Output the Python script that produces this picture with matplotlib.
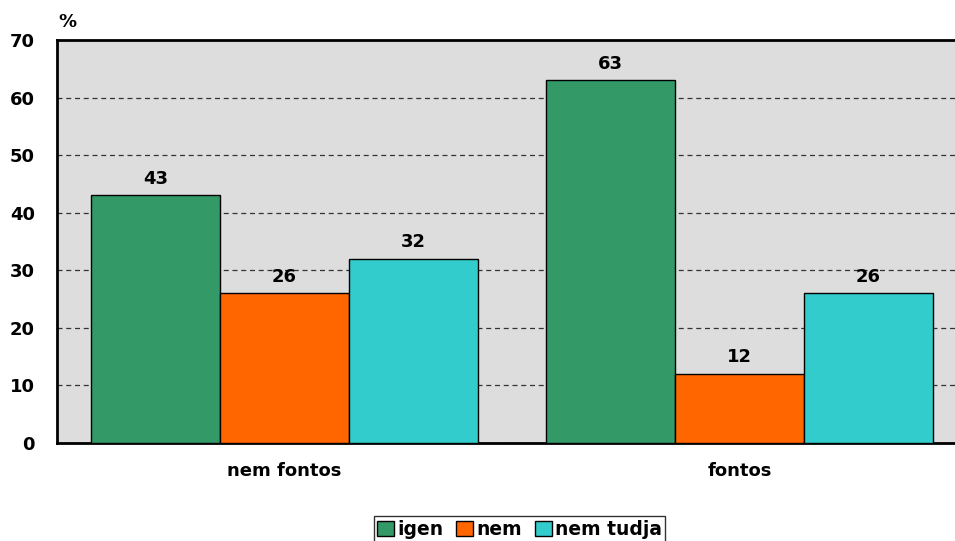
import matplotlib.pyplot as plt
import numpy as np

# adatok
categories = ['nem fontos', 'fontos']
series_names = ['igen', 'nem', 'nem tudja']
igen = [43, 63]
nem = [26, 12]
nem_tudja = [32, 26]
colors = ['#339966', '#FF6600', '#33CCCC']

plt.rcParams['font.family'] = ['DejaVu Sans']
plt.rcParams['font.weight'] = 'bold'

fig = plt.figure(figsize=(9.55, 5.41), dpi=100)
# a rajzterület jobb széle kilóg a képből
ax = fig.add_axes([57 / 955, 1 - 443 / 541, 910 / 955, 403 / 541])
ax.set_facecolor('#DDDDDD')

x = np.arange(len(categories))
w = 0.85 / 3
for i, (vals, name) in enumerate(zip([igen, nem, nem_tudja], series_names)):
    pos = x + (i - 1) * w
    bars = ax.bar(pos, vals, w, color=colors[i], edgecolor='black', linewidth=1, label=name, zorder=3)
    for b, v in zip(bars, vals):
        ax.text(b.get_x() + b.get_width() / 2, v + 1.3, str(v), ha='center', va='bottom',
                fontsize=13, fontweight='bold')

ax.set_xlim(-0.5, 1.5)
ax.set_ylim(0, 70)
ax.set_yticks(range(0, 71, 10))
ax.yaxis.grid(True, linestyle=(0, (4, 3)), color='#333333', linewidth=0.9, zorder=0)
ax.set_xticks(x)
ax.set_xticklabels(categories, fontsize=13, fontweight='bold')
ax.tick_params(axis='x', length=0, pad=14)
ax.tick_params(axis='y', length=0, labelsize=13, pad=16)
for t in ax.get_yticklabels():
    t.set_fontweight('bold')

for s in ['top', 'left', 'bottom']:
    ax.spines[s].set_linewidth(2)
ax.spines['right'].set_visible(False)

fig.text(58 / 955, 1 - 22 / 541, '%', fontsize=13, fontweight='bold', ha='left', va='center')

leg = fig.legend(loc='upper center', bbox_to_anchor=(0.544, 1 - 516 / 541), ncol=3, frameon=True,
                 fancybox=False, edgecolor='black', fontsize=13.5, handlelength=0.9, handleheight=0.9,
                 handletextpad=0.15, columnspacing=0.7, borderpad=0.2, borderaxespad=0)
leg.get_frame().set_linewidth(1)
for t in leg.get_texts():
    t.set_fontweight('bold')

fig.savefig('out.png', dpi=100)
